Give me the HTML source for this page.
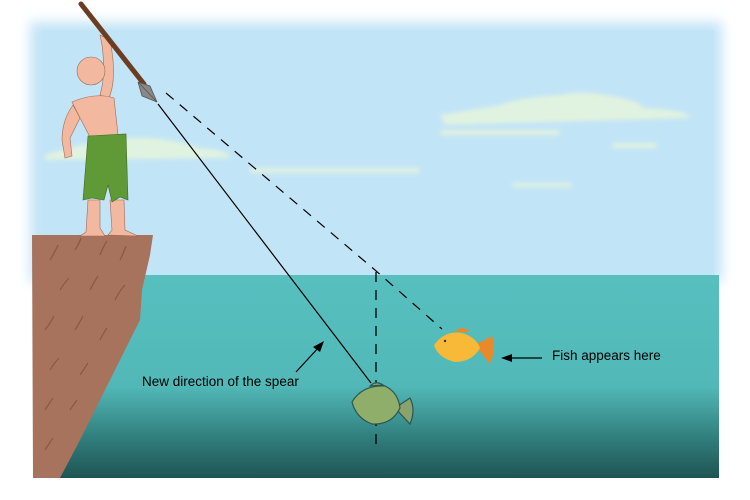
<!DOCTYPE html>
<html><head><meta charset="utf-8"><style>html,body{margin:0;padding:0;background:#fff}svg{display:block}</style></head><body>
<svg width="750" height="500" viewBox="0 0 750 500" xmlns="http://www.w3.org/2000/svg">
<defs>
<linearGradient id="w" x1="0" y1="0" x2="0" y2="1">
<stop offset="0" stop-color="#57c0bf"/><stop offset="0.55" stop-color="#51b8b7"/><stop offset="0.8" stop-color="#317f7d"/><stop offset="1" stop-color="#1e5453"/></linearGradient>
<filter id="b" x="-10%" y="-10%" width="120%" height="120%"><feGaussianBlur stdDeviation="6"/></filter>
<filter id="b2"><feGaussianBlur stdDeviation="2"/></filter>
</defs>
<rect x="30" y="22" width="692" height="260" fill="#c2e4f7" filter="url(#b)"/>
<rect x="42" y="30" width="672" height="245" fill="#c2e4f7"/>
<g fill="#e6f5dc" filter="url(#b2)" opacity="0.85">
<path d="M440 115 Q470 110 500 105 Q520 97 560 95 Q580 90 605 95 Q640 100 643 108 Q690 110 690 118 L445 125Z"/>
<rect x="440" y="130" width="120" height="5" rx="3"/>
<rect x="612" y="143" width="45" height="5" rx="3"/>
<rect x="512" y="183" width="60" height="4" rx="2"/>
<path d="M45 155 Q90 140 130 138 Q165 136 200 148 Q230 150 230 158 L45 160Z"/>
<rect x="250" y="168" width="170" height="5" rx="3"/>
</g>
<rect x="33" y="275" width="686" height="203" fill="url(#w)"/>
<!-- cliff -->
<path d="M32 235 L153 235 L150 255 L142 290 L140 320 L125 350 L100 400 L80 440 L60 478 L33 478Z" fill="#a8735c"/>
<g stroke="#7a4d3c" stroke-width="1.2" fill="none" opacity="0.7">
<path d="M50 260 q5 -8 8 -15 M75 250 q4 -6 6 -12 M100 255 q3 -8 7 -14 M120 260 q4 -8 6 -14 M60 290 q5 -8 9 -12 M90 290 q4 -8 8 -14 M115 300 q5 -10 10 -15 M45 330 q6 -8 9 -14 M75 330 q5 -8 8 -14 M100 340 q4 -8 7 -12 M50 370 q5 -8 9 -12 M80 375 q4 -6 8 -12 M45 410 q5 -8 8 -12 M70 410 q4 -6 7 -10 M45 450 q5 -8 8 -12"/>
</g>
<!-- man -->
<path d="M88 200 L86 232 L80 236 L105 236 L100 228 L100 200Z M110 200 L112 230 L108 235 L138 236 L125 230 L124 200Z" fill="#f2b8a0" stroke="#a06a58" stroke-width="0.6"/>
<path d="M73 105 Q62 120 62 140 L65 158 L72 156 L70 138 L80 118Z" fill="#f2b8a0" stroke="#a06a58" stroke-width="0.6"/>
<path d="M108 100 Q118 80 110 40 L100 35 L102 45 Q106 75 100 95Z" fill="#f2b8a0" stroke="#a06a58" stroke-width="0.6"/>
<path d="M72 102 Q95 92 114 98 L118 135 L90 137 L80 118Z" fill="#f2b8a0" stroke="#a06a58" stroke-width="0.6"/>
<circle cx="91" cy="71" r="14" fill="#f2b8a0" stroke="#a06a58" stroke-width="0.6"/>
<path d="M88 136 L126 134 L128 200 L120 197 L112 202 L108 185 L104 200 L92 198 L83 200Z" fill="#5f9a36" stroke="#3e6c22" stroke-width="0.6"/>
<!-- spear -->
<line x1="81" y1="4" x2="144" y2="84" stroke="#6b3d22" stroke-width="5" stroke-linecap="round"/>
<path d="M138 82 L157 102 L142 96 Z M138 82 L157 102 L150 86Z" fill="#888" stroke="#555" stroke-width="0.8"/>
<!-- lines -->
<line x1="158" y1="104" x2="371" y2="383" stroke="#000" stroke-width="1.2"/>
<path d="M166 93 L375 270 L442 329" stroke="#000" stroke-width="1.2" fill="none" stroke-dasharray="10 8"/>
<line x1="376" y1="272" x2="376" y2="450" stroke="#000" stroke-width="1.3" stroke-dasharray="10 8"/>
<!-- green fish -->
<g stroke="#2a5552" stroke-width="1.2">
<path d="M395 408 L410 398 Q416 410 410 424 Z" fill="#8aa26c"/>
<path d="M370 386 Q376 380 383 385 Z" fill="#8aa26c"/>
<path d="M352 402 Q362 385 385 386 Q398 392 400 408 Q392 425 372 424 Q356 418 352 402Z" fill="#8fae6a"/>
</g>
<!-- gold fish -->
<path d="M475 345 L492 336 Q496 350 490 364 Z" fill="#e88a2a"/>
<path d="M455 332 Q462 324 470 332 Z" fill="#e88a2a"/>
<path d="M434 345 Q445 330 462 333 Q476 337 480 348 Q472 362 455 362 Q438 358 434 345Z" fill="#f7b937"/>
<circle cx="445" cy="341" r="1.2" fill="#333"/>
<!-- labels -->
<line x1="296" y1="372" x2="320" y2="346" stroke="#000" stroke-width="1.2"/>
<path d="M324 341 L313 347 L320 352Z" fill="#000"/>
<line x1="542" y1="358" x2="508" y2="358" stroke="#000" stroke-width="1.2"/>
<path d="M501 358 L512 354 L512 362Z" fill="#000"/>
<text x="142" y="386" font-family="Liberation Sans, sans-serif" font-size="13.5" fill="#000">New direction of the spear</text>
<text x="552" y="360" font-family="Liberation Sans, sans-serif" font-size="13.5" fill="#000">Fish appears here</text>
</svg>
</body></html>
